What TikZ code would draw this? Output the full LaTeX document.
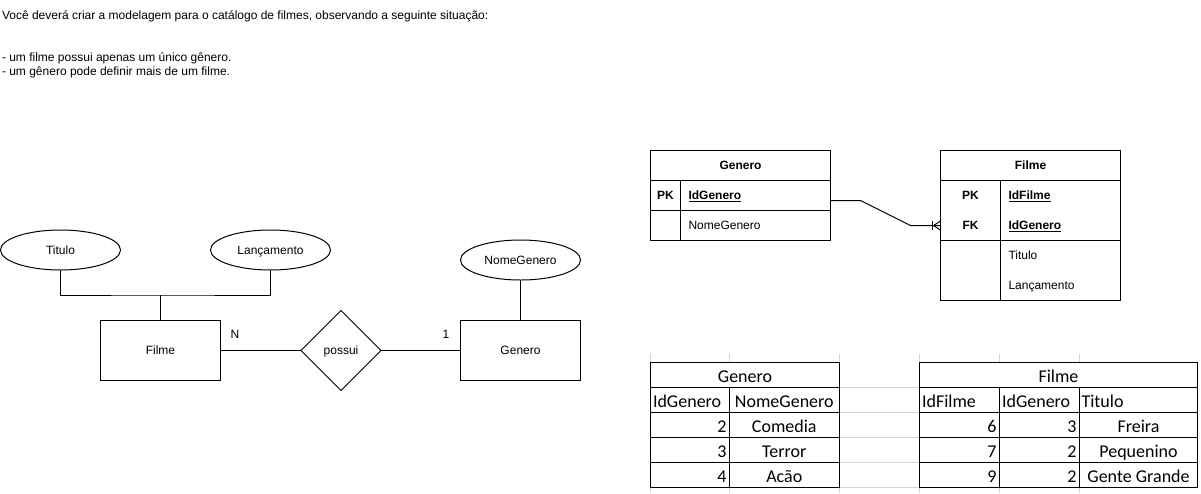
\documentclass[tikz,border=0pt]{standalone}
\usepackage{fontspec}
\setmainfont{Liberation Sans}
\newfontfamily\calib{Carlito}
\usetikzlibrary{shapes.geometric}
\begin{document}
\begin{tikzpicture}[x=1pt,y=-1pt,line width=1pt,
  every node/.style={font=\fontsize{12}{14}\selectfont, inner sep=0pt, outer sep=0pt, text height=10.5pt, text depth=2pt},
  ent/.style={draw, minimum width=120pt, minimum height=60pt},
  attr/.style={draw, ellipse, minimum width=120pt, minimum height=40pt},
  rel/.style={draw, diamond, aspect=1, minimum width=80pt, minimum height=80pt},
  tbox/.style={draw, minimum width=180pt, minimum height=30pt},
  tbox2/.style={draw, minimum width=180pt, minimum height=60pt},
  bld/.style={font=\fontsize{12}{14}\selectfont\bfseries},
  ss/.style={font=\calib\fontsize{18}{20}\selectfont, text height=, text depth=},
  sgrid/.style={draw=black!17, line width=0.9pt},
  scell/.style={line width=1pt}]
\useasboundingbox (0,0) rectangle (1201,493);

% intro text
\node[anchor=base west] (intro) at (2,19.5) {Você deverá criar a modelagem para o catálogo de filmes, observando a seguinte situação:};
\node[anchor=base west] (rule1) at (2,61.5) {- um filme possui apenas um único gênero.};
\node[anchor=base west] (rule2) at (2,75.5) {- um gênero pode definir mais de um filme.};

% conceptual model
\node[ent] (filme) at (160.5,350.5) {Filme};
\node[rel] (possui) at (341,350.5) {possui};
\node[ent] (genero) at (520.5,350.5) {Genero};
\node[attr] (titulo) at (60.5,250) {Titulo};
\node[attr] (lanc) at (270.5,250) {Lançamento};
\node[attr] (nomeg) at (520.5,260) {NomeGenero};
\coordinate (j) at (160.5,295);
\draw (titulo.south) |- (j) -| (lanc.south);
\draw (filme.north) -- (j);
\draw (nomeg.south) -- (genero.north);
\draw (filme.east) -- (possui.west);
\draw (possui.east) -- (genero.west);
\node (nlab) at (235,334) {N};
\node (onelab) at (446,334) {1};

% logical model: Genero
\node[tbox, bld] (gh) at (740.5,165.5) {Genero};
\node[tbox, anchor=north] (gpk) at (gh.south) {};
\node[tbox, anchor=north] (gnm) at (gpk.south) {};
\draw ([xshift=30pt]gpk.north west) -- ([xshift=30pt]gnm.south west);
\node[bld] (gpkt) at ([xshift=15pt]gpk.west) {PK};
\node[bld, anchor=west] (gidt) at ([xshift=38pt]gpk.west) {\underline{IdGenero}};
\node[anchor=west] (gnmt) at ([xshift=38pt]gnm.west) {NomeGenero};

% logical model: Filme
\node[tbox, bld] (fh) at (1030.5,165.5) {Filme};
\node[tbox2, anchor=north] (fkeys) at (fh.south) {};
\node[tbox2, anchor=north] (fattrs) at (fkeys.south) {};
\draw ([xshift=60pt]fkeys.north west) -- ([xshift=60pt]fattrs.south west);
\node[bld] (fpkt) at ([xshift=30pt,yshift=15pt]fkeys.west) {PK};
\node[bld] (ffkt) at ([xshift=30pt,yshift=-15pt]fkeys.west) {FK};
\node[bld, anchor=west] (fidt) at ([xshift=68pt,yshift=15pt]fkeys.west) {\underline{IdFilme}};
\node[bld, anchor=west] (fgidt) at ([xshift=68pt,yshift=-15pt]fkeys.west) {\underline{IdGenero}};
\node[anchor=west] (ftit) at ([xshift=68pt,yshift=15pt]fattrs.west) {Titulo};
\node[anchor=west] (flan) at ([xshift=68pt,yshift=-15pt]fattrs.west) {Lançamento};

% relationship connector with crow's foot
\coordinate (ga) at ([yshift=-5pt]gpk.east);
\coordinate (fb) at ([yshift=-15pt]fkeys.west);
\draw (ga) -- ++(30,0) -- ([xshift=-30pt]fb) -- (fb);
\draw ([xshift=-7pt]fb) -- ([yshift=4.5pt]fb);
\draw ([xshift=-7pt]fb) -- ([yshift=-4.5pt]fb);
\draw ([xshift=-8pt,yshift=4.5pt]fb) -- ([xshift=-8pt,yshift=-4.5pt]fb);

% spreadsheet grid (light)
\foreach \xx in {650.7,729.3,839.3,919.3,999.3,1079.3} {
  \draw[sgrid] (\xx,354) -- (\xx,362);
  \draw[sgrid] (\xx,487) -- (\xx,493);
}
\foreach \yy in {387,412,437,462,487} {
  \draw[sgrid] (839.3,\yy) -- (919.3,\yy);
}

% spreadsheet: Genero
\draw[scell] (650.7,362) rectangle (839.3,487);
\foreach \yy in {387,412,437,462} \draw[scell] (650.7,\yy) -- (839.3,\yy);
\draw[scell] (729.3,387) -- (729.3,487);
\node[ss, anchor=base] (sgh) at (745,382) {Genero};
\node[ss, anchor=base west] (sgc1) at (653,407.5) {IdGenero};
\node[ss, anchor=base] (sgc2) at (784.3,407.5) {NomeGenero};
\node[ss, anchor=base east] (sg1a) at (726.5,432.5) {2};
\node[ss, anchor=base] (sg1b) at (784.3,432.5) {Comedia};
\node[ss, anchor=base east] (sg2a) at (726.5,457.5) {3};
\node[ss, anchor=base] (sg2b) at (784.3,457.5) {Terror};
\node[ss, anchor=base east] (sg3a) at (726.5,482.5) {4};
\node[ss, anchor=base] (sg3b) at (784.3,482.5) {Acão};

% spreadsheet: Filme
\draw[scell] (919.3,362) rectangle (1197.7,487);
\foreach \yy in {387,412,437,462} \draw[scell] (919.3,\yy) -- (1197.7,\yy);
\draw[scell] (999.3,387) -- (999.3,487);
\draw[scell] (1079.3,387) -- (1079.3,487);
\node[ss, anchor=base] (sfh) at (1058.5,382) {Filme};
\node[ss, anchor=base west] (sfc1) at (922,407.5) {IdFilme};
\node[ss, anchor=base west] (sfc2) at (1002,407.5) {IdGenero};
\node[ss, anchor=base west] (sfc3) at (1081.5,407.5) {Titulo};
\node[ss, anchor=base east] (sf1a) at (996.5,432.5) {6};
\node[ss, anchor=base east] (sf1b) at (1076.5,432.5) {3};
\node[ss, anchor=base] (sf1c) at (1138.5,432.5) {Freira};
\node[ss, anchor=base east] (sf2a) at (996.5,457.5) {7};
\node[ss, anchor=base east] (sf2b) at (1076.5,457.5) {2};
\node[ss, anchor=base] (sf2c) at (1138.5,457.5) {Pequenino};
\node[ss, anchor=base east] (sf3a) at (996.5,482.5) {9};
\node[ss, anchor=base east] (sf3b) at (1076.5,482.5) {2};
\node[ss, anchor=base] (sf3c) at (1138.5,482.5) {Gente Grande};
\end{tikzpicture}
\end{document}
